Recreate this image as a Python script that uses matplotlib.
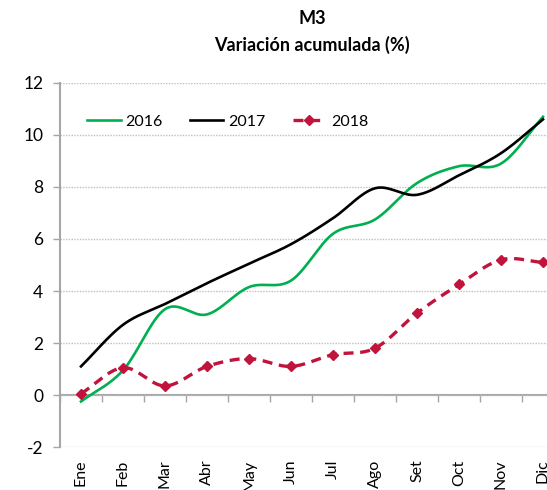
import numpy as np
import matplotlib
matplotlib.use("Agg")
import matplotlib.pyplot as plt
from matplotlib.lines import Line2D

months = ["Ene", "Feb", "Mar", "Abr", "May", "Jun", "Jul", "Ago", "Set", "Oct", "Nov", "Dic"]
s2016 = [-0.25, 0.95, 3.3, 3.1, 4.15, 4.4, 6.2, 6.75, 8.15, 8.8, 8.9, 10.7]
s2017 = [1.1, 2.7, 3.5, 4.3, 5.05, 5.8, 6.8, 7.95, 7.7, 8.45, 9.3, 10.6]
s2018 = [0.05, 1.05, 0.35, 1.1, 1.4, 1.1, 1.55, 1.8, 3.15, 4.25, 5.2, 5.1]
yticks = [-2, 0, 2, 4, 6, 8, 10, 12]

plt.rcParams['font.family'] = ['Lato', 'DejaVu Sans']


def smooth(x, y, n=20):
    # Catmull-Rom spline through the points (Excel "smoothed line" style)
    x = np.asarray(x, float)
    y = np.asarray(y, float)
    px = np.concatenate([[2 * x[0] - x[1]], x, [2 * x[-1] - x[-2]]])
    py = np.concatenate([[2 * y[0] - y[1]], y, [2 * y[-1] - y[-2]]])
    xs, ys = [], []
    t = np.linspace(0, 1, n, endpoint=False)
    for i in range(1, len(px) - 2):
        for arr, out in ((px, xs), (py, ys)):
            p0, p1, p2, p3 = arr[i - 1], arr[i], arr[i + 1], arr[i + 2]
            out.extend(0.5 * ((2 * p1) + (-p0 + p2) * t
                              + (2 * p0 - 5 * p1 + 4 * p2 - p3) * t ** 2
                              + (-p0 + 3 * p1 - 3 * p2 + p3) * t ** 3))
    xs.append(x[-1]); ys.append(y[-1])
    return np.array(xs), np.array(ys)


fig = plt.figure(figsize=(5.47, 4.9), dpi=100)
L, R, T, B = 60, 547, 83, 447
ax = fig.add_axes([L / 547, 1 - B / 490, (R - L) / 547, (B - T) / 490])

x = np.arange(len(months))
green = '#00B050'
red = '#C0143C'

gx, gy = smooth(x, s2016)
ax.plot(gx, gy, color=green, lw=1.9, zorder=3, clip_on=False)
bx, by = smooth(x, s2017)
ax.plot(bx, by, color='black', lw=1.9, zorder=3, clip_on=False)
rx, ry = smooth(x, s2018)
ax.plot(rx, ry, color=red, lw=2.4, ls=(0, (3, 2)), zorder=4, clip_on=False)
ax.plot(x, s2018, ls='none', marker='D', ms=5.5, color=red, zorder=5, clip_on=False)

ax.set_xlim(-0.5, (R - L) / 42 - 0.5)
ax.set_ylim(-2, 12)
ax.set_yticks(yticks)
ax.set_yticklabels([str(v) for v in yticks], fontsize=12.5)
ax.yaxis.grid(True, ls=(0, (1, 1)), color='#BFBFBF', lw=1.0)
ax.set_axisbelow(True)
for s in ['top', 'right', 'bottom']:
    ax.spines[s].set_visible(False)
ax.spines['left'].set_color('#A6A6A6')
ax.spines['left'].set_linewidth(1.5)
ax.tick_params(axis='y', length=5, color='#A6A6A6', width=1.0, pad=7)

ax.set_xticks(x)
ax.set_xticklabels(months, rotation=90, fontsize=11.5)
ax.tick_params(axis='x', length=0, pad=9)

sec = ax.secondary_xaxis(2 / 14)
sec.set_xticks(np.arange(-0.5, 12.5, 1.0))
sec.set_xticklabels([])
sec.tick_params(axis='x', length=5, color='#A6A6A6', width=1.0, direction='out')
sec.spines['bottom'].set_color('#A6A6A6')
sec.spines['bottom'].set_linewidth(1.5)

handles = [
    Line2D([], [], color=green, lw=1.9),
    Line2D([], [], color='black', lw=1.9),
    Line2D([], [], color=red, lw=2.4, ls=(0, (3, 2)), marker='D', ms=5.5),
]
ax.legend(handles, ['2016', '2017', '2018'], loc='center left', ncol=3, frameon=False,
          fontsize=11.5, bbox_to_anchor=((87 - L) / (R - L), (B - 122) / (B - T)),
          borderaxespad=0, borderpad=0, handlelength=2.1, columnspacing=1.7,
          handletextpad=0.3)

fig.text(312 / 547, 1 - 19 / 490, 'M3', ha='center', va='center', fontsize=13, fontweight='bold')
fig.text(312 / 547, 1 - 45 / 490, 'Variación acumulada (%)', ha='center', va='center',
         fontsize=13, fontweight='bold')

fig.savefig('out.png', dpi=100)
